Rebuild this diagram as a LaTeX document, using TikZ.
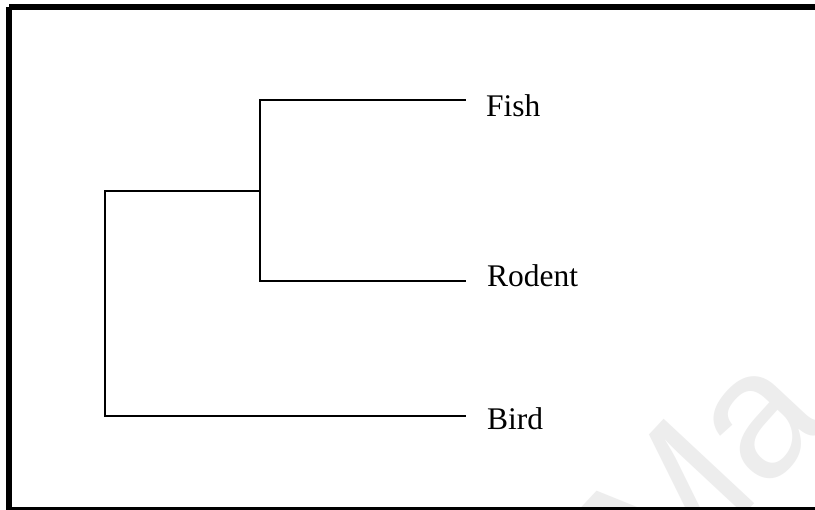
\documentclass[tikz,border=0pt]{standalone}
\usepackage{fontspec}
\setmainfont{Liberation Serif}
\newfontfamily\wmfont{Liberation Sans}
\begin{document}
\begin{tikzpicture}[x=1pt,y=-1pt,
  branch/.style={line width=2pt,line cap=rect},
  leaf/.style={anchor=base west,inner sep=0pt,font=\fontsize{31.5}{31.5}\selectfont},
  frameline/.style={line width=6pt}]
\useasboundingbox (0,0) rectangle (815,510);
\clip (0,0) rectangle (815,510);
\fill[white] (0,0) rectangle (815,510);
% watermark
\node[anchor=base west,inner sep=0pt,text=black!7,rotate=47,font=\wmfont\fontsize{180}{180}\selectfont] (wm) at (662,603) {Ma};
% frame
\draw[frameline] (9,7) -- (830,7);
\draw[frameline] (9,7) -- (9,520);
\draw[frameline] (9,510.5) -- (830,510.5);
% tree coordinates
\coordinate (root) at (105,191);
\coordinate (rootlow) at (105,416);
\coordinate (inner) at (260,191);
\coordinate (innertop) at (260,100);
\coordinate (innerlow) at (260,281);
\coordinate (fishend) at (465,100);
\coordinate (rodentend) at (465,281);
\coordinate (birdend) at (465,416);
% labels
\node[leaf] (fish) at (486,117) {Fish};
\node[leaf] (rodent) at (487,287) {Rodent};
\node[leaf] (bird) at (487,430) {Bird};
% branches
\draw[branch] (root) -- (rootlow) -- (birdend);
\draw[branch] (root) -- (inner);
\draw[branch] (innertop) -- (innerlow);
\draw[branch] (innertop) -- (fishend);
\draw[branch] (innerlow) -- (rodentend);
\end{tikzpicture}
\end{document}
